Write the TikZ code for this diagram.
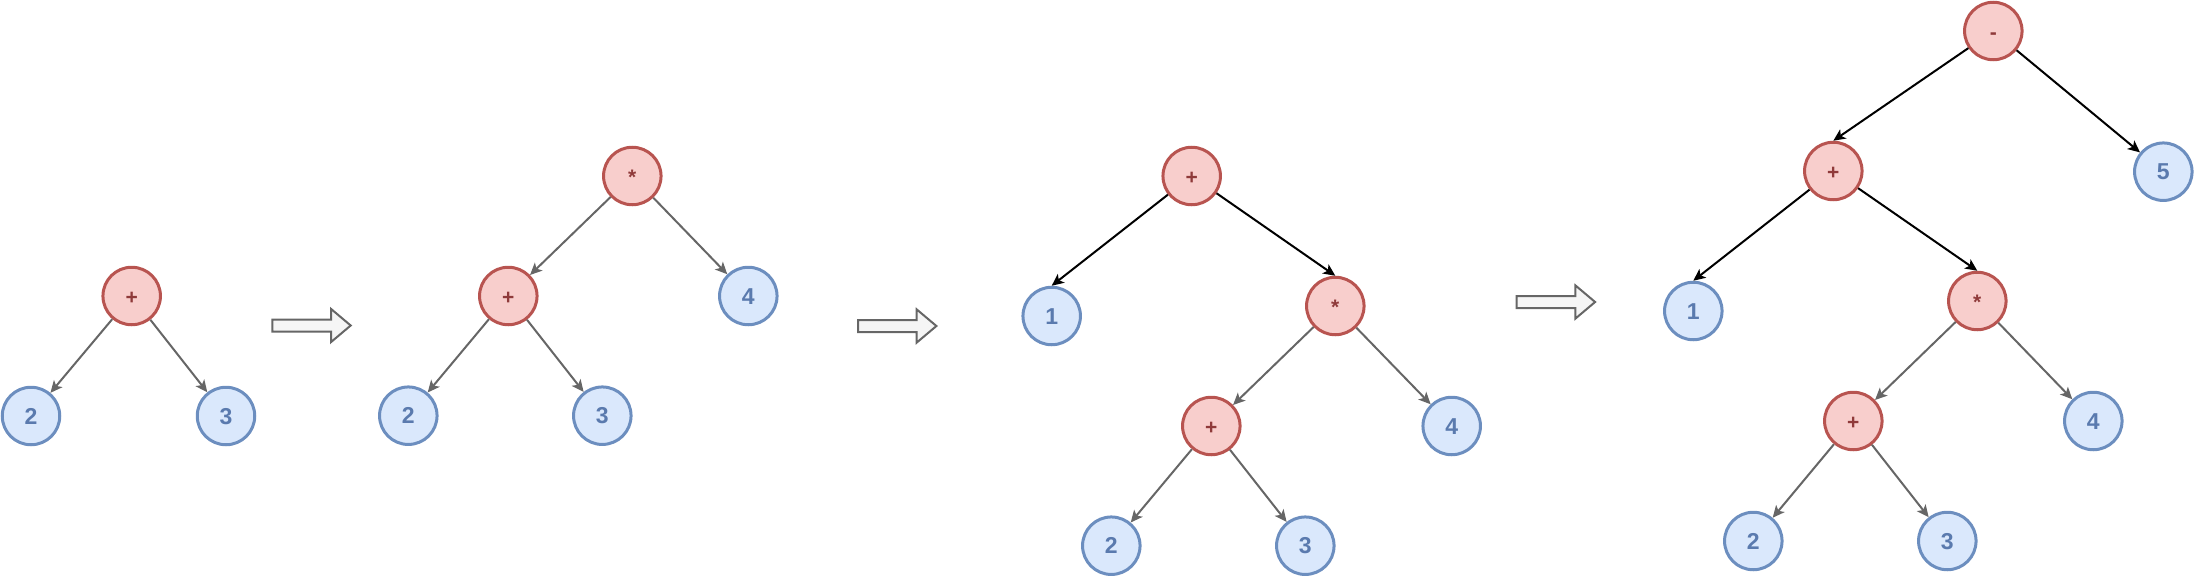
\documentclass[tikz,border=0pt]{standalone}
\usepackage{fontspec}
\setmainfont{Liberation Sans}
\usetikzlibrary{arrows.meta}
\definecolor{redfill}{HTML}{F8CECC}
\definecolor{redline}{HTML}{B85450}
\definecolor{redtext}{HTML}{8F3A3A}
\definecolor{bluefill}{HTML}{DAE8FC}
\definecolor{blueline}{HTML}{6C8EBF}
\definecolor{bluetext}{HTML}{5A7AAE}
\definecolor{edgegray}{HTML}{666666}
\definecolor{arrowfill}{HTML}{F5F5F5}
\begin{document}
\begin{tikzpicture}[x=1pt,y=-1pt,
  opnode/.style={circle, draw=redline, fill=redfill, line width=3pt, minimum size=57.5pt, inner sep=0pt,
    text=redtext, font=\fontsize{21}{21}\selectfont\bfseries, text height=16.5pt, text depth=0pt},
  numnode/.style={circle, draw=blueline, fill=bluefill, line width=3pt, minimum size=57.5pt, inner sep=0pt,
    text=bluetext, font=\fontsize{23}{23}\selectfont\bfseries, text height=16.5pt, text depth=0pt},
  oldedge/.style={draw=edgegray, line width=2pt, -{Stealth[length=12pt,width=11pt,inset=3pt]}},
  newedge/.style={draw=black, line width=2pt, -{Stealth[length=12pt,width=11pt,inset=3pt]}},
  blockarrow/.style={draw=edgegray, fill=arrowfill, line width=2pt, line join=miter}]
\useasboundingbox (0,0) rectangle (2195,578);

% Tree 1
\node[opnode]  (p1) at (131.7,296) {+};
\node[numnode] (a2) at (31,416) {2};
\node[numnode] (a3) at (226,416) {3};
\draw[oldedge] (p1) -- (a2);
\draw[oldedge] (p1) -- (a3);

% Tree 2
\node[opnode]  (m2) at (632.3,176) {*};
\node[opnode]  (p2) at (508.3,296) {+};
\node[numnode] (b4) at (748.3,296) {4};
\node[numnode] (b2) at (408.3,415.7) {2};
\node[numnode] (b3) at (602.3,415.7) {3};
\draw[oldedge] (m2) -- (p2);
\draw[oldedge] (m2) -- (b4);
\draw[oldedge] (p2) -- (b2);
\draw[oldedge] (p2) -- (b3);

% Tree 3
\node[opnode]  (p3) at (1191.7,176) {+};
\node[numnode] (c1) at (1051.7,316) {1};
\node[opnode]  (m3) at (1335.3,306) {*};
\node[opnode]  (q3) at (1211.3,426) {+};
\node[numnode] (c4) at (1451.7,426) {4};
\node[numnode] (c2) at (1111.3,545.7) {2};
\node[numnode] (c3) at (1305.3,545.7) {3};
\draw[newedge] (p3) -- (c1.north);
\draw[newedge] (p3) -- (m3.north);
\draw[oldedge] (m3) -- (q3);
\draw[oldedge] (m3) -- (c4);
\draw[oldedge] (q3) -- (c2);
\draw[oldedge] (q3) -- (c3);

% Tree 4
\node[opnode]  (s4) at (1993.3,31) {-};
\node[opnode]  (p4) at (1833.3,171) {+};
\node[numnode] (d5) at (2163.3,171.7) {5};
\node[numnode] (d1) at (1693.3,311) {1};
\node[opnode]  (m4) at (1977.3,301) {*};
\node[opnode]  (q4) at (1853.3,421) {+};
\node[numnode] (d4) at (2093.3,421) {4};
\node[numnode] (d2) at (1753.3,541) {2};
\node[numnode] (d3) at (1947.3,541) {3};
\draw[newedge] (s4) -- (p4.north);
\draw[newedge] (s4) -- (d5);
\draw[newedge] (p4) -- (d1.north);
\draw[newedge] (p4) -- (m4.north);
\draw[oldedge] (m4) -- (q4);
\draw[oldedge] (m4) -- (d4);
\draw[oldedge] (q4) -- (d2);
\draw[oldedge] (q4) -- (d3);

% Block arrows
\foreach \bx/\by in {272.3/325.5, 858/326, 1516.7/302}{
  \draw[blockarrow] (\bx,\by-6) -- ++(58.7,0) -- ++(0,-10.6) -- (\bx+78.4,\by)
    -- (\bx+58.7,\by+16.6) -- ++(0,-10.6) -- (\bx,\by+6) -- cycle;
}
\end{tikzpicture}
\end{document}
